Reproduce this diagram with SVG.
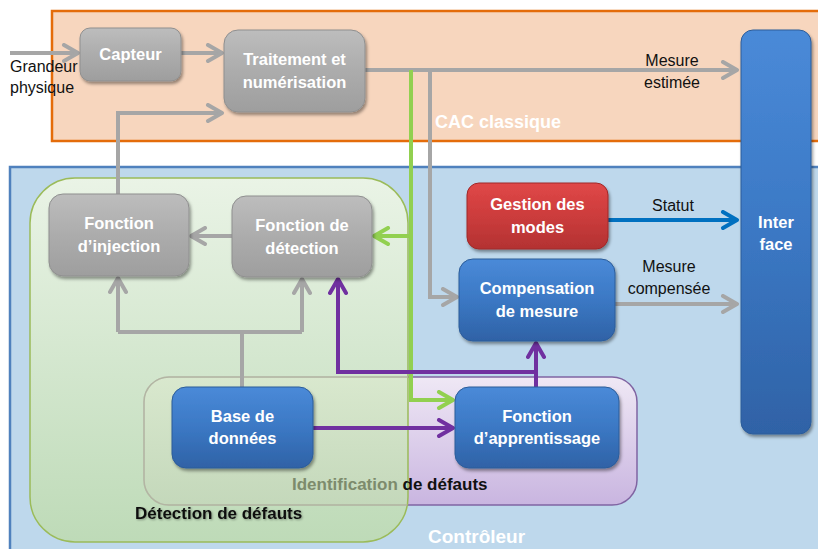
<svg xmlns="http://www.w3.org/2000/svg" width="818" height="549" viewBox="0 0 818 549">
<defs>
<linearGradient id="gGray" x1="0" y1="0" x2="0" y2="1"><stop offset="0" stop-color="#bdbdbd"/><stop offset="0.5" stop-color="#acacac"/><stop offset="1" stop-color="#9e9e9e"/></linearGradient>
<linearGradient id="gBlue" x1="0" y1="0" x2="0" y2="1"><stop offset="0" stop-color="#4a8ad8"/><stop offset="0.5" stop-color="#3b78c4"/><stop offset="1" stop-color="#2f62a6"/></linearGradient>
<linearGradient id="gRed" x1="0" y1="0" x2="0" y2="1"><stop offset="0" stop-color="#e04848"/><stop offset="0.5" stop-color="#cc3c3c"/><stop offset="1" stop-color="#b33232"/></linearGradient>
<linearGradient id="gGreen" x1="0" y1="0" x2="0" y2="1"><stop offset="0" stop-color="#f1f8e5"/><stop offset="1" stop-color="#bedbaf"/></linearGradient>
<linearGradient id="gPurple" x1="0" y1="0" x2="0" y2="1"><stop offset="0" stop-color="#efe8f5"/><stop offset="1" stop-color="#c9b5e0"/></linearGradient>
<clipPath id="greenClip"><rect x="30" y="178" width="378" height="364" rx="45"/></clipPath>
<filter id="sh" x="-10%" y="-10%" width="130%" height="140%"><feDropShadow dx="1.5" dy="2.5" stdDeviation="1.8" flood-color="#000" flood-opacity="0.4"/></filter>
<filter id="tsh" x="-5%" y="-20%" width="110%" height="150%"><feDropShadow dx="1" dy="1" stdDeviation="0.8" flood-color="#000" flood-opacity="0.35"/></filter>
<marker id="aGray" viewBox="0 0 20 20" refX="17" refY="10" markerWidth="20" markerHeight="20" markerUnits="userSpaceOnUse" orient="auto"><path d="M3,2 L17,10 L3,18" fill="none" stroke="#a6a6a6" stroke-width="4" stroke-linecap="round" stroke-linejoin="round"/></marker>
<marker id="aGreen" viewBox="0 0 20 20" refX="17" refY="10" markerWidth="20" markerHeight="20" markerUnits="userSpaceOnUse" orient="auto"><path d="M3,2 L17,10 L3,18" fill="none" stroke="#92d050" stroke-width="4" stroke-linecap="round" stroke-linejoin="round"/></marker>
<marker id="aPurple" viewBox="0 0 20 20" refX="17" refY="10" markerWidth="20" markerHeight="20" markerUnits="userSpaceOnUse" orient="auto"><path d="M3,2 L17,10 L3,18" fill="none" stroke="#7030a0" stroke-width="4" stroke-linecap="round" stroke-linejoin="round"/></marker>
<marker id="aBlue" viewBox="0 0 20 20" refX="17" refY="10" markerWidth="20" markerHeight="20" markerUnits="userSpaceOnUse" orient="auto"><path d="M3,2 L17,10 L3,18" fill="none" stroke="#0070c0" stroke-width="4" stroke-linecap="round" stroke-linejoin="round"/></marker>
</defs>
<style>
.nt{font-family:"Liberation Sans",Arial,sans-serif;font-weight:bold;font-size:16.5px;fill:#fff;text-anchor:middle}
.lb{font-family:"Liberation Sans",Arial,sans-serif;font-size:16px;fill:#111;text-anchor:middle}
.gr{fill:url(#gGray);stroke:#8f8f8f;stroke-width:1;filter:url(#sh)}
.bl{fill:url(#gBlue);stroke:#2c5c99;stroke-width:1;filter:url(#sh)}
.rd{fill:url(#gRed);stroke:#a02828;stroke-width:1;filter:url(#sh)}
.cg{fill:none;stroke:#a6a6a6;stroke-width:4}
.cgn{fill:none;stroke:#92d050;stroke-width:4}
.cp{fill:none;stroke:#7030a0;stroke-width:4}
.cb{fill:none;stroke:#0070c0;stroke-width:4}
.ttl{font-family:"Liberation Sans",Arial,sans-serif;font-weight:bold;fill:#fff}
</style>
<rect width="818" height="549" fill="#fff"/>
<g id="cac">
<rect x="52" y="11" width="780" height="130" fill="#f7d6be" stroke="#e46c0a" stroke-width="2.5"/>
<text class="ttl" x="435" y="128" font-size="18">CAC classique</text>
</g>
<g id="controleur">
<rect x="10" y="167" width="820" height="400" fill="#bed8ec" stroke="#4f81bd" stroke-width="2.5"/>
<text class="ttl" x="428" y="543" font-size="19">Contrôleur</text>
</g>
<g id="identification">
<rect x="144" y="377" width="493" height="128" rx="25" fill="url(#gPurple)" stroke="#8064a2" stroke-width="1.5"/>
</g>
<g id="detection-zone">
<rect x="30" y="178" width="378" height="364" rx="45" fill="url(#gGreen)" fill-opacity="0.86" stroke="#9bbb59" stroke-width="1.5"/>
<rect x="144" y="377" width="493" height="128" rx="25" fill="none" stroke="#b3b5a3" stroke-width="1.5" clip-path="url(#greenClip)"/>
<text x="135" y="519" font-family="Liberation Sans,Arial,sans-serif" font-weight="bold" font-size="17" fill="#111" filter="url(#tsh)">Détection de défauts</text>
</g>
<g id="identification-label">
<text x="292" y="490" font-family="Liberation Sans,Arial,sans-serif" font-weight="bold" font-size="17" fill="#111"><tspan fill="#7d8b6c">Identification </tspan>de défauts</text>
</g>
<g id="connectors">
<path class="cg" d="M10,53 H78" marker-end="url(#aGray)"/>
<path class="cg" d="M181,53 H222" marker-end="url(#aGray)"/>
<path class="cg" d="M365,70 H737" marker-end="url(#aGray)"/>
<path class="cg" d="M430,70 V297 H457" marker-end="url(#aGray)"/>
<path class="cg" d="M118,194 V113 H222" marker-end="url(#aGray)"/>
<path class="cg" d="M232,236 H191" marker-end="url(#aGray)"/>
<path class="cg" d="M242,387 V332"/>
<path class="cg" d="M118,332 H302"/>
<path class="cg" d="M118,332 V278" marker-end="url(#aGray)"/>
<path class="cg" d="M302,332 V279" marker-end="url(#aGray)"/>
<path class="cg" d="M615,304 H737" marker-end="url(#aGray)"/>
<path class="cgn" d="M411,70 V400 H453" marker-end="url(#aGreen)"/>
<path class="cgn" d="M411,236 H374" marker-end="url(#aGreen)"/>
<path class="cp" d="M313,428 H453" marker-end="url(#aPurple)"/>
<path class="cp" d="M536,387 V343" marker-end="url(#aPurple)"/>
<path class="cp" d="M536,372 H338 V279" marker-end="url(#aPurple)"/>
<path class="cb" d="M608,220 H737" marker-end="url(#aBlue)"/>
</g>
<g id="labels">
<text class="lb" x="10" y="72" style="text-anchor:start">Grandeur</text>
<text class="lb" x="10" y="93" style="text-anchor:start">physique</text>
<text class="lb" x="672" y="66">Mesure</text>
<text class="lb" x="672" y="88">estimée</text>
<text class="lb" x="673" y="211">Statut</text>
<text class="lb" x="669" y="272">Mesure</text>
<text class="lb" x="669" y="294">compensée</text>
</g>
<g id="capteur">
<rect class="gr" x="80" y="28" width="101" height="53" rx="10"/>
<text class="nt" x="130.5" y="60">Capteur</text>
</g>
<g id="traitement">
<rect class="gr" x="224" y="30" width="141" height="82" rx="14"/>
<text class="nt" x="294.5" y="65">Traitement et</text>
<text class="nt" x="294.5" y="88">numérisation</text>
</g>
<g id="injection">
<rect class="gr" x="49" y="194" width="140" height="82" rx="14"/>
<text class="nt" x="119" y="229">Fonction</text>
<text class="nt" x="119" y="252">d’injection</text>
</g>
<g id="detection">
<rect class="gr" x="232" y="196" width="140" height="81" rx="14"/>
<text class="nt" x="302" y="231">Fonction de</text>
<text class="nt" x="302" y="254">détection</text>
</g>
<g id="gestion">
<rect class="rd" x="467" y="183" width="141" height="66" rx="12"/>
<text class="nt" x="537.5" y="210">Gestion des</text>
<text class="nt" x="537.5" y="233">modes</text>
</g>
<g id="compensation">
<rect class="bl" x="459" y="259" width="156" height="82" rx="14"/>
<text class="nt" x="537" y="294">Compensation</text>
<text class="nt" x="537" y="317">de mesure</text>
</g>
<g id="base">
<rect class="bl" x="172" y="387" width="141" height="81" rx="14"/>
<text class="nt" x="242.5" y="422">Base de</text>
<text class="nt" x="242.5" y="444">données</text>
</g>
<g id="apprentissage">
<rect class="bl" x="455" y="387" width="164" height="81" rx="14"/>
<text class="nt" x="537" y="422">Fonction</text>
<text class="nt" x="537" y="444">d’apprentissage</text>
</g>
<g id="interface">
<rect class="bl" x="741" y="30" width="70" height="404" rx="12"/>
<text class="nt" x="776" y="228">Inter</text>
<text class="nt" x="776" y="250">face</text>
</g>
</svg>
